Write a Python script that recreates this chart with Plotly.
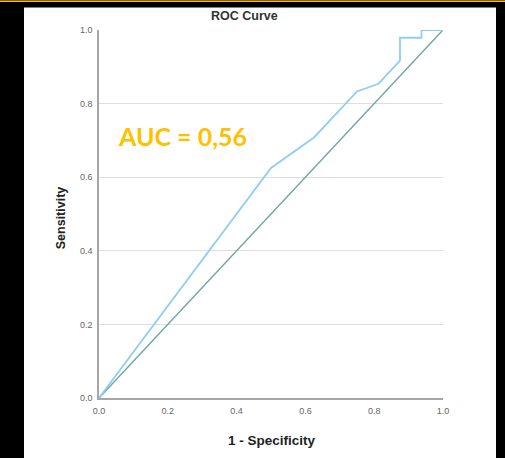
import plotly.graph_objects as go

fpr = [0.0, 0.3125, 0.5, 0.625, 0.75, 0.8125, 0.875, 0.875, 0.9375, 0.9375, 1.0]
tpr = [0.0, 0.39, 0.625, 0.708, 0.833, 0.854, 0.917, 0.979, 0.979, 1.0, 1.0]
ref_x = [0.0, 1.0]
ref_y = [0.0, 1.0]
tick_vals = [0.0, 0.2, 0.4, 0.6, 0.8, 1.0]
tick_text = ["0.0", "0.2", "0.4", "0.6", "0.8", "1.0"]

W, H = 505, 458
L, R, T, B = 99, 443, 29.5, 398
pw, ph = R - L, B - T

def px(x):
    return (x - L) / pw

def py(y):
    return (B - y) / ph

fig = go.Figure()
fig.add_trace(go.Scatter(x=ref_x, y=ref_y, mode="lines",
                         line=dict(color="#6fa8a0", width=1.5), showlegend=False))
fig.add_trace(go.Scatter(x=fpr, y=tpr, mode="lines",
                         line=dict(color="#90cdf4", width=1.8), showlegend=False))

fig.update_layout(
    width=W, height=H,
    margin=dict(l=L, r=W - R, t=T, b=H - B, autoexpand=False),
    paper_bgcolor="black",
    plot_bgcolor="white",
    font=dict(family="Liberation Sans, Arial", size=9, color="#666666"),
    shapes=[
        dict(type="rect", xref="paper", yref="paper", layer="below",
             x0=px(24), x1=px(496), y0=py(460), y1=py(7),
             fillcolor="white", line=dict(width=0)),
        dict(type="line", xref="paper", yref="paper",
             x0=px(0), x1=px(505), y0=py(0.7), y1=py(0.7),
             line=dict(color="#FFC000", width=1.6)),
    ],
    annotations=[
        dict(text="<b>ROC Curve</b>", xref="paper", yref="paper",
             x=px(244), y=py(15), xanchor="center", yanchor="middle", showarrow=False,
             font=dict(family="Liberation Sans, Arial", size=12.5, color="#333333")),
        dict(text="<b>1 - Specificity</b>", xref="paper", yref="paper",
             x=px(272), y=py(441), xanchor="center", yanchor="middle", showarrow=False,
             font=dict(family="Liberation Sans, Arial", size=13.5, color="#222222")),
        dict(text="<b>Sensitivity</b>", xref="paper", yref="paper",
             x=px(61), y=py(218), xanchor="center", yanchor="middle",
             showarrow=False, textangle=-90,
             font=dict(family="Liberation Sans, Arial", size=12.5, color="#222222")),
        dict(text="<b>AUC = 0,56</b>", xref="paper", yref="paper",
             x=px(116), y=py(136), xanchor="left", yanchor="middle", showarrow=False,
             font=dict(family="Lato, Open Sans", size=25, color="#FFC000")),
    ],
)
fig.update_xaxes(range=[0, 1], tickvals=tick_vals, ticktext=tick_text,
                 showgrid=False, zeroline=False, showline=True,
                 linecolor="#a6a6a6", linewidth=1.5, ticks="", ticklabelstandoff=3)
fig.update_yaxes(range=[0, 1], tickvals=tick_vals, ticktext=tick_text,
                 showgrid=True, gridcolor="#dedede", gridwidth=1.2,
                 zeroline=False, showline=True,
                 linecolor="#a6a6a6", linewidth=1.5, ticks="", ticklabelstandoff=3)

fig.write_html(
    "out.html",
    config={"displayModeBar": False},
    post_script="document.body.style.margin='0';document.body.style.background='black';document.body.style.overflow='hidden';",
)
